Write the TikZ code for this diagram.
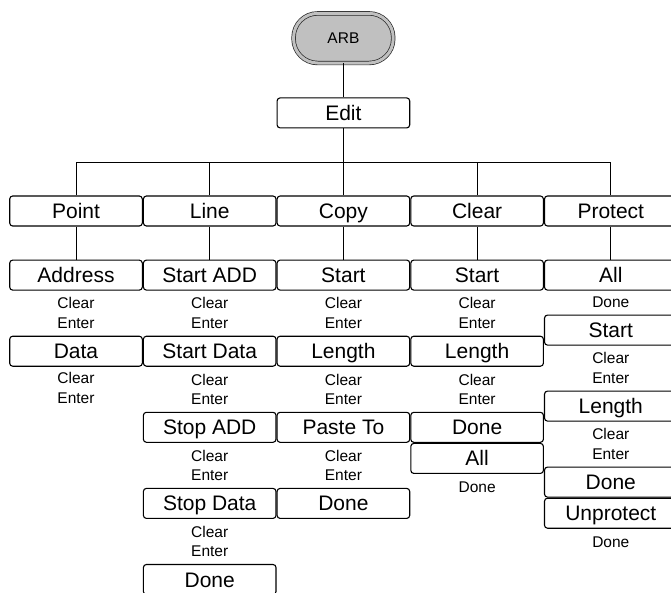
\documentclass[tikz,border=0pt]{standalone}
\usepackage{fontspec}
\setmainfont{Liberation Sans}
\usetikzlibrary{positioning, calc}
\definecolor{arbgray}{RGB}{192,192,192}

\begin{document}
\begin{tikzpicture}[
  node distance=45pt,
  box/.style={draw,fill=white,rounded corners=3pt,line width=1.1pt,minimum width=132.6pt,
              minimum height=30pt,inner sep=0pt,text height=15pt,text depth=0pt,
              font=\fontsize{21}{25}\selectfont},
  note/.style={align=center,inner sep=0pt,font=\fontsize{15.5}{19.5}\selectfont},
  start/.style={draw=black!85,line width=0.7pt,fill=arbgray,double=arbgray,double distance=3pt,
                rounded corners=24pt,minimum width=99.6pt,minimum height=49.6pt,
                font=\fontsize{15.5}{19.5}\selectfont},
  link/.style={line width=1pt}
]
  \useasboundingbox (0,0) rectangle (671pt,-592pt);
  \clip (0,0) rectangle (671pt,-592pt);

  % menu keys
  \node[box] (point) at (76pt,-211pt) {Point};
  \node[box, right=0pt of point] (line) {Line};
  \node[box, right=0pt of line] (copy) {Copy};
  \node[box, right=0pt of copy] (clear) {Clear};
  \node[box, right=0pt of clear] (protect) {Protect};
  \node[box, above=67pt of copy] (edit) {Edit};
  \node[start, above=34pt of edit] (arb) {ARB};
  \coordinate[below=34pt of edit] (bus);

  % Point
  \node[box, below=33pt of point] (address) {Address};
  \node[box, below=of address] (data) {Data};
  \node[note] (n1) at ($(address.south)!.5!(data.north)$) {Clear\\Enter};
  \node[note] (n2) at ([yshift=-21pt]data.south) {Clear\\Enter};

  % Line
  \node[box, below=33pt of line] (startadd) {Start ADD};
  \node[box, below=of startadd] (startdata) {Start Data};
  \node[box, below=of startdata] (stopadd) {Stop ADD};
  \node[box, below=of stopadd] (stopdata) {Stop Data};
  \node[box, below=of stopdata] (linedone) {Done};
  \node[note] (n3) at ($(startadd.south)!.5!(startdata.north)$) {Clear\\Enter};
  \node[note] (n4) at ($(startdata.south)!.5!(stopadd.north)$) {Clear\\Enter};
  \node[note] (n5) at ($(stopadd.south)!.5!(stopdata.north)$) {Clear\\Enter};
  \node[note] (n6) at ($(stopdata.south)!.5!(linedone.north)$) {Clear\\Enter};

  % Copy
  \node[box, below=33pt of copy] (copystart) {Start};
  \node[box, below=of copystart] (copylength) {Length};
  \node[box, below=of copylength] (pasteto) {Paste To};
  \node[box, below=of pasteto] (copydone) {Done};
  \node[note] (n7) at ($(copystart.south)!.5!(copylength.north)$) {Clear\\Enter};
  \node[note] (n8) at ($(copylength.south)!.5!(pasteto.north)$) {Clear\\Enter};
  \node[note] (n9) at ($(pasteto.south)!.5!(copydone.north)$) {Clear\\Enter};

  % Clear
  \node[box, below=33pt of clear] (clearstart) {Start};
  \node[box, below=of clearstart] (clearlength) {Length};
  \node[box, below=of clearlength] (cleardone) {Done};
  \node[box, below=0pt of cleardone] (clearall) {All};
  \node[note] (n10) at ($(clearstart.south)!.5!(clearlength.north)$) {Clear\\Enter};
  \node[note] (n11) at ($(clearlength.south)!.5!(cleardone.north)$) {Clear\\Enter};
  \node[note] (n12) at ([yshift=-13pt]clearall.south) {Done};

  % Protect
  \node[box, below=33pt of protect] (protall) {All};
  \node[box, below=23.9pt of protall] (protstart) {Start};
  \node[box, below=44.9pt of protstart] (protlength) {Length};
  \node[box, below=44.9pt of protlength] (protdone) {Done};
  \node[box, below=0pt of protdone] (unprotect) {Unprotect};
  \node[note] (n13) at ($(protall.south)!.5!(protstart.north)$) {Done};
  \node[note] (n14) at ($(protstart.south)!.5!(protlength.north)$) {Clear\\Enter};
  \node[note] (n15) at ($(protlength.south)!.5!(protdone.north)$) {Clear\\Enter};
  \node[note] (n16) at ([yshift=-13pt]unprotect.south) {Done};

  \draw[link] (arb) -- (edit);
  \draw[link] (copy) -- (edit);
  \draw[link] (point) |- (bus) -| (protect);
  \draw[link] (line) -- (line |- bus);
  \draw[link] (clear) -- (clear |- bus);
  \draw[link] (point) -- (address);
  \draw[link] (line) -- (startadd);
  \draw[link] (copy) -- (copystart);
  \draw[link] (clear) -- (clearstart);
  \draw[link] (protect) -- (protall);
\end{tikzpicture}
\end{document}
